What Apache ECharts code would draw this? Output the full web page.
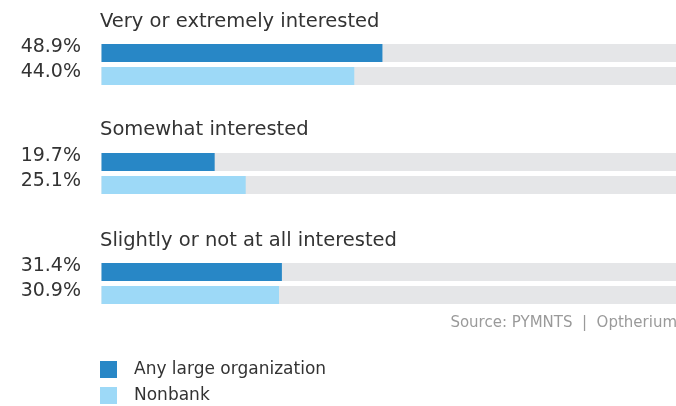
<!DOCTYPE html>
<html>
<head>
<meta charset="utf-8">
<script src="https://cdn.jsdelivr.net/npm/echarts@6/dist/echarts.min.js"></script>
<style>
  html, body { margin: 0; padding: 0; background: #ffffff; }
  #chart { width: 676px; height: 406px; }
</style>
</head>
<body>
<div id="chart"></div>
<script>
// Survey answers, shares in percent
const groups = ['Very or extremely interested', 'Somewhat interested', 'Slightly or not at all interested'];
const anyLarge = [48.9, 19.7, 31.4];
const nonbank = [44.0, 25.1, 30.9];
const seriesNames = ['Any large organization', 'Nonbank'];
const trackMax = 100;
const sourceText = 'Source: PYMNTS  |  Optherium';

const FONT = 'DejaVu Sans';
const DARK = '#2887c6';
const LIGHT = '#9dd9f7';
const TRACK = '#e5e6e8';

const gridTops = [41.5, 150.5, 260.5];
const titleTops = [12, 120, 231];

const grids = [], xAxes = [], yAxes = [], series = [], titles = [];

// value label to the left of each bar, sitting slightly above the bar's middle
const makeLabel = dy => ({
  show: true, position: 'left', distance: 20.5, offset: [0, dy],
  fontFamily: FONT, fontSize: 19, color: '#333333',
  formatter: p => Number(p.value).toFixed(1) + '%'
});

groups.forEach((g, i) => {
  grids.push({ left: 101.5, top: gridTops[i], width: 577, height: 46 });
  xAxes.push({ type: 'value', gridIndex: i, min: 0, max: trackMax, show: false });
  yAxes.push({ type: 'category', gridIndex: i, inverse: true, data: seriesNames, show: false });
  titles.push({
    text: g, left: 100, top: titleTops[i], padding: 0,
    textStyle: { fontFamily: FONT, fontSize: 19.5, fontWeight: 'normal', color: '#333333' }
  });
  const common = { type: 'bar', xAxisIndex: i, yAxisIndex: i, barWidth: 18, barGap: '-100%' };
  series.push(Object.assign({}, common, {
    name: 'track', silent: true, z: 1,
    data: [trackMax, trackMax],
    itemStyle: { color: TRACK }
  }));
  series.push(Object.assign({}, common, {
    name: seriesNames[0], z: 2,
    data: [anyLarge[i], '-'],
    itemStyle: { color: DARK },
    label: makeLabel(-5.5)
  }));
  series.push(Object.assign({}, common, {
    name: seriesNames[1], z: 2,
    data: ['-', nonbank[i]],
    itemStyle: { color: LIGHT },
    label: makeLabel(-3.5)
  }));
});

titles.push({
  text: sourceText, right: -1, top: 316, padding: 0,
  textStyle: { fontFamily: FONT, fontSize: 15, fontWeight: 'normal', color: '#9a9a9a' }
});

const chart = echarts.init(document.getElementById('chart'), null, { renderer: 'canvas' });
chart.setOption({
  animation: false,
  backgroundColor: '#ffffff',
  title: titles,
  grid: grids,
  xAxis: xAxes,
  yAxis: yAxes,
  legend: {
    data: seriesNames,
    orient: 'vertical',
    left: 100, top: 361,
    padding: 0,
    itemWidth: 17, itemHeight: 17, itemGap: 9,
    icon: 'rect',
    selectedMode: false,
    textStyle: { fontFamily: FONT, fontSize: 17, color: '#333333', padding: [0, 0, 0, 12] }
  },
  series: series
});
</script>
</body>
</html>
